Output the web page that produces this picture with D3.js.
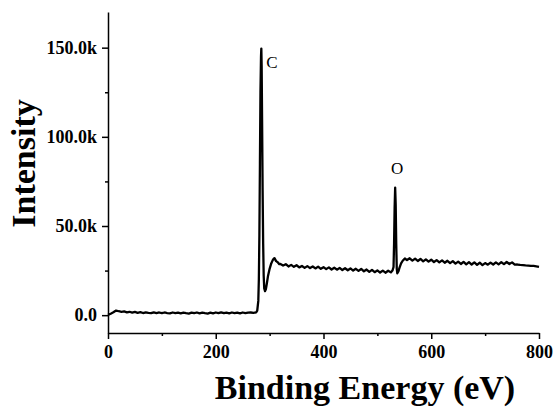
<!DOCTYPE html>
<html>
<head>
<meta charset="utf-8">
<script src="https://cdn.jsdelivr.net/npm/d3@7/dist/d3.min.js"></script>
<style>
  html, body { margin: 0; padding: 0; background: #ffffff; }
  svg { display: block; }
  .tick text { font-family: "Liberation Serif", "Times New Roman", serif; font-weight: bold; font-size: 18px; fill: #000; }
</style>
</head>
<body>
<svg id="chart" width="554" height="407"></svg>
<script>
// XPS survey spectrum: binding energy (eV) and intensity (thousands of counts)
const bindingEnergy = [
  0, 5, 10, 15, 20, 25, 30, 35, 40, 45, 50, 55, 60, 65, 70, 75, 80, 85, 90, 95,
  100, 105, 110, 115, 120, 125, 130, 135, 140, 145, 150, 155, 160, 165, 170, 175, 180, 185, 190, 195,
  200, 205, 210, 215, 220, 225, 230, 235, 240, 245, 250, 255, 260, 265, 270, 275,
  277, 279, 280, 281, 282, 283, 284, 284.6, 285.2, 286, 287, 288, 289, 290, 291.5, 293, 295, 297,
  300, 303, 306, 309, 312, 315, 318,
  320, 325, 330, 335, 340, 345, 350, 355, 360, 365, 370, 375, 380, 385, 390, 395,
  400, 405, 410, 415, 420, 425, 430, 435, 440, 445, 450, 455, 460, 465, 470, 475, 480, 485, 490, 495,
  500, 505, 510, 515, 520, 525, 528,
  530, 531, 532, 533, 534, 535, 536, 537, 539, 541, 544, 547, 551,
  555, 560, 565, 570, 575, 580, 585, 590, 595, 600, 605, 610, 615, 620, 625, 630, 635, 640, 645, 650,
  655, 660, 665, 670, 675, 680, 685, 690, 695, 700, 705, 710, 715, 720, 725, 730, 735, 740, 745, 750,
  755, 760, 765, 770, 775, 780, 785, 790, 795, 800
];
const intensityK = [
  0.2, 0.8, 1.6, 2.6, 2.2, 1.9, 2.1, 1.6, 1.9, 1.4, 1.8, 1.3, 1.7, 1.2, 1.6, 1.3, 1.1, 1.6, 1.2, 1.5,
  1.1, 1.5, 1.2, 1.0, 1.5, 1.1, 1.4, 1.0, 1.4, 1.1, 0.9, 1.4, 1.1, 1.5, 1.0, 1.4, 1.1, 0.9, 1.4, 1.0,
  1.5, 1.1, 1.6, 1.1, 1.4, 1.0, 1.5, 1.1, 1.4, 1.0, 1.5, 1.1, 1.4, 1.5, 1.3, 1.6,
  2.5, 8, 20, 45, 85, 125, 145, 149.5, 140, 110, 70, 40, 22, 15, 13.5, 14.5, 18, 22,
  26, 29, 31, 32, 30.3, 29.7, 28.6,
  28.7, 27.8, 28.6, 27.3, 28.2, 27.1, 28.0, 26.8, 27.6, 26.5, 27.5, 26.4, 27.3, 26.2, 27.2, 26.0,
  26.9, 25.8, 26.8, 25.6, 26.6, 25.5, 26.5, 25.3, 26.3, 25.2, 26.2, 25.0, 26.0, 24.8, 25.9, 24.6, 25.6, 24.3, 25.4, 24.1,
  25.1, 23.9, 25.0, 23.8, 24.9, 24.0, 25.0,
  27, 40, 60, 71.5, 62, 40, 26, 23.5, 24.5, 26.5, 29, 30.5, 31.8,
  30.9, 31.9, 30.6, 31.7, 30.4, 31.5, 30.2, 31.3, 30.0, 31.1, 29.8, 30.9, 29.6, 30.7, 29.4, 30.5, 29.2, 30.3, 28.9, 30.0,
  28.7, 29.9, 28.5, 29.7, 28.4, 29.6, 28.2, 29.4, 28.1, 29.2, 28.3, 29.5, 28.4, 29.6, 28.5, 29.7, 28.6, 29.8, 28.7, 29.6,
  28.3, 28.4, 28.2, 28.1, 27.9, 27.8, 27.6, 27.6, 27.4, 27.1
];
const xTicks = [0, 200, 400, 600, 800];
const xMinorTicks = [100, 300, 500, 700];
const yTicks = [0, 50000, 100000, 150000];
const yTickLabels = ["0.0", "50.0k", "100.0k", "150.0k"];
const yMinorTicks = [25000, 75000, 125000];
const peakLabels = [
  { name: "C", energy: 284.6, value: 149500 },
  { name: "O", energy: 533, value: 71500 }
];

const spectrum = bindingEnergy.map((e, i) => ({ e, v: intensityK[i] * 1000 }));

const width = 554, height = 407;
const margin = { top: 12, right: 15, bottom: 74, left: 108 };
const svg = d3.select("#chart");

const x = d3.scaleLinear().domain([0, 800]).range([margin.left, width - margin.right]);
const y = d3.scaleLinear().domain([-10000, 170000]).range([height - margin.bottom, margin.top]);

// minor ticks
svg.append("g")
  .attr("transform", `translate(0,${height - margin.bottom})`)
  .call(d3.axisBottom(x).tickValues(xMinorTicks).tickSize(3).tickFormat(""))
  .call(g => g.select(".domain").remove())
  .call(g => g.selectAll("line").attr("stroke", "#000").attr("stroke-width", 1.5));
svg.append("g")
  .attr("transform", `translate(${margin.left},0)`)
  .call(d3.axisLeft(y).tickValues(yMinorTicks).tickSize(3).tickFormat(""))
  .call(g => g.select(".domain").remove())
  .call(g => g.selectAll("line").attr("stroke", "#000").attr("stroke-width", 1.5));

// major axes
svg.append("g")
  .attr("transform", `translate(0,${height - margin.bottom})`)
  .call(d3.axisBottom(x).tickValues(xTicks).tickSize(6).tickSizeOuter(0).tickPadding(6))
  .call(g => g.select(".domain").attr("stroke", "#000").attr("stroke-width", 1.5))
  .call(g => g.selectAll("line").attr("stroke", "#000").attr("stroke-width", 1.5));

svg.append("g")
  .attr("transform", `translate(${margin.left},0)`)
  .call(d3.axisLeft(y).tickValues(yTicks).tickSize(6).tickSizeOuter(0).tickPadding(5)
    .tickFormat((d, i) => yTickLabels[i]))
  .call(g => g.select(".domain").attr("stroke", "#000").attr("stroke-width", 1.5))
  .call(g => g.selectAll("line").attr("stroke", "#000").attr("stroke-width", 1.5));

// spectrum line
const line = d3.line().x(d => x(d.e)).y(d => y(d.v));
svg.append("path")
  .datum(spectrum)
  .attr("d", line)
  .attr("fill", "none")
  .attr("stroke", "#000")
  .attr("stroke-width", 2.3)
  .attr("stroke-linejoin", "round");

// peak labels
svg.append("text")
  .attr("x", x(peakLabels[0].energy) + 5)
  .attr("y", y(peakLabels[0].value) + 19)
  .attr("font-family", "Liberation Serif, Times New Roman, serif")
  .attr("font-size", 17)
  .text(peakLabels[0].name);
svg.append("text")
  .attr("x", x(peakLabels[1].energy) + 2)
  .attr("y", y(peakLabels[1].value) - 14)
  .attr("text-anchor", "middle")
  .attr("font-family", "Liberation Serif, Times New Roman, serif")
  .attr("font-size", 17)
  .text(peakLabels[1].name);

// axis titles
svg.append("text")
  .attr("x", 365)
  .attr("y", 399)
  .attr("text-anchor", "middle")
  .attr("font-family", "Liberation Serif, Times New Roman, serif")
  .attr("font-weight", "bold")
  .attr("font-size", 34)
  .text("Binding Energy (eV)");
svg.append("text")
  .attr("transform", "translate(35,163.5) rotate(-90)")
  .attr("text-anchor", "middle")
  .attr("font-family", "Liberation Serif, Times New Roman, serif")
  .attr("font-weight", "bold")
  .attr("font-size", 34)
  .text("Intensity");
</script>
</body>
</html>
